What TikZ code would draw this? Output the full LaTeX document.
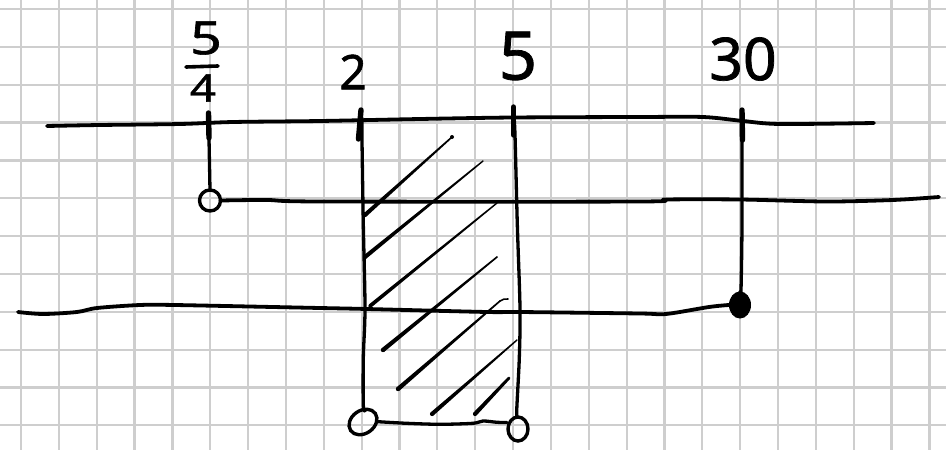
\documentclass[tikz,border=0pt]{standalone}
\usepackage{fontspec}
\setmainfont{Noto Sans}[FakeBold=1.2]
\usetikzlibrary{calc,shapes.geometric}
\definecolor{gridgray}{RGB}{206,206,206}
\newcommand\hatchline[4]{%
  \fill ($#1!#3!90:#2$) -- ($#2!#4!-90:#1$) -- ($#2!#4!90:#1$) -- ($#1!#3!-90:#2$) -- cycle;
  \fill #1 circle (#3); \fill #2 circle (#4);}
\begin{document}
\begin{tikzpicture}[x=1pt,y=-1pt,
  ink/.style={line width=3.8pt, line cap=round, line join=round},
  thinink/.style={line width=3.3pt, line cap=round, line join=round},
  gridline/.style={draw=gridgray, line width=2.2pt},
  tickmark/.style={line width=5.4pt, line cap=round},
  opencirc/.style={circle, draw, line width=3.4pt, minimum size=21pt, inner sep=0pt, outer sep=0pt},
  openell/.style={ellipse, draw, line width=3.4pt, inner sep=0pt, outer sep=0pt},
  lbl/.style={inner sep=0pt, outer sep=0pt}]
\useasboundingbox (0,0) rectangle (946,450);
\fill[white] (0,0) rectangle (946,450);
% grid
\foreach \i in {0,...,24} \draw[gridline] ({21+37.85*\i},0) -- ({21+37.85*\i},450);
\foreach \j in {0,...,11} \draw[gridline] (0,{9+37.85*\j}) -- (946,{9+37.85*\j});

% end markers
\node[opencirc] (c1) at (210,200.5) {};
\node[openell, rotate=35, minimum width=30pt, minimum height=23pt] (bl) at (363,422) {};
\node[openell, minimum width=20pt, minimum height=24pt] (br) at (518,429) {};
\node[ellipse, fill, inner sep=0pt, minimum width=22pt, minimum height=27pt] (dot) at (740,305) {};

% coordinates of ticks
\coordinate (t1) at (208.5,113);
\coordinate (t2) at (361,110);
\coordinate (t5) at (513.5,107);
\coordinate (t30) at (742,110);

% top number line
\draw[ink] plot[smooth, tension=0.5] coordinates {(47,126) (100,125) (180,124) (233,122) (320,121) (420,119) (513,117.5) (640,117) (703,117) (743,121) (780,124) (874,123)};
% second line (from 5/4)
\draw[ink] plot[smooth, tension=0.5] coordinates {(c1.east) (267,200) (320,201.5) (640,201.5) (666,199.5) (740,199.5) (826,201.5) (893,200) (939,197)};
% third line (to 30)
\draw[ink] plot[smooth, tension=0.5] coordinates {(18,312) (43,314) (77,312) (97,308) (140,305) (175,305) (320,308) (367,309) (487,312) (520,312) (640,313.5) (666,314) (709,307) (dot.west)};

% ticks and verticals
\draw[tickmark] (t1) -- (209,138);
\draw[thinink] (t1) -- (c1.north);
\draw[tickmark] (t2) -- (358.5,139);
\draw[thinink] plot[smooth, tension=0.5] coordinates {(362,118) (362,140) (363.3,224) (365,308) (363.3,358) (363.3,405) (365,411)};
\draw[tickmark] (t5) -- (513.5,135);
\draw[thinink] plot[smooth, tension=0.5] coordinates {(514,118) (515,135) (517.3,224) (520,308) (519.3,358) (516.7,411.7) (518,417)};
\draw[tickmark] (t30) -- (742.5,140);
\draw[thinink] plot[smooth, tension=0.5] coordinates {(742,118) (742,224) (741,290) (dot.north)};

% bottom edge of rectangle
\draw[thinink] plot[smooth, tension=0.5] coordinates {(378,421.7) (406.7,423.3) (440,424.3) (473,423.3) (483,421) (497,422.3) (507,422.5)};

% hatching
\hatchline{(365,215)}{(452,137)}{2.1pt}{0.8pt}
\fill (452,137) circle (2pt);
\hatchline{(365,257)}{(483,161)}{2.1pt}{0.7pt}
\hatchline{(370,306)}{(497,203)}{1.9pt}{0.7pt}
\hatchline{(383,350)}{(497,257)}{2.2pt}{0.8pt}
\hatchline{(398,389)}{(500,301)}{2.2pt}{0.8pt}
\draw[line width=1.6pt, line cap=round] (500,301) to[bend left=20] (508,299);
\hatchline{(432,414)}{(517,340)}{2.1pt}{0.7pt}
\hatchline{(475,414)}{(509,378)}{2.1pt}{1.4pt}

% labels
\node[lbl, font=\fontsize{46}{48}\selectfont, xscale=1.2] (n5a) at (206,38) {5};
\draw[line width=3.6pt, line cap=round] (186,67) -- (218,66);
\node[lbl, font=\fontsize{38}{40}\selectfont, xscale=1.2] (n4) at (203,88) {4};
\node[lbl, font=\fontsize{48}{50}\selectfont] (n2) at (353,72) {2};
\node[lbl, font=\fontsize{67}{70}\selectfont] (n5) at (518,56) {5};
\node[lbl, font=\fontsize{59}{62}\selectfont] (n30) at (743,59) {30};
\end{tikzpicture}
\end{document}
